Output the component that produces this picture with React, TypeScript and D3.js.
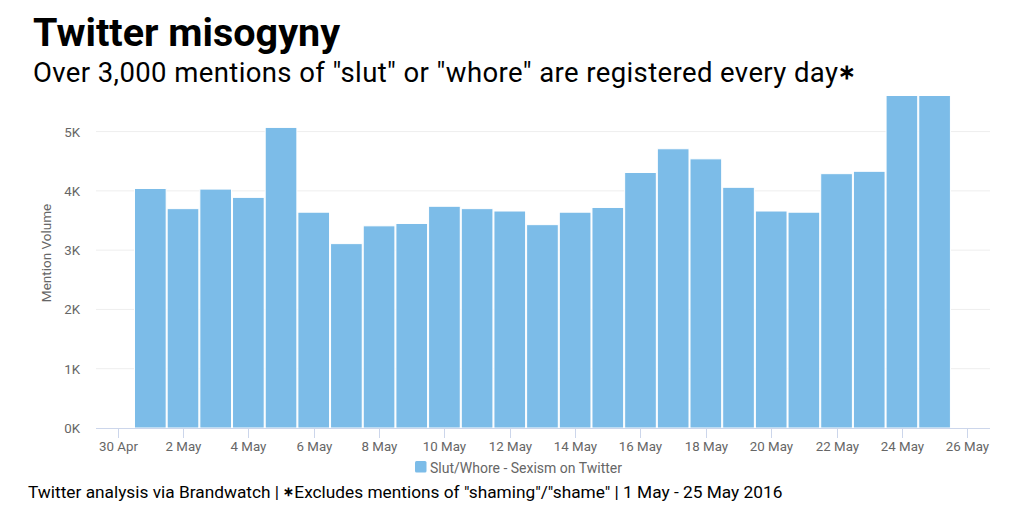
import React from "react";
import * as d3 from "d3";

const dates: string[] = [
  "2016-05-01","2016-05-02","2016-05-03","2016-05-04","2016-05-05","2016-05-06","2016-05-07",
  "2016-05-08","2016-05-09","2016-05-10","2016-05-11","2016-05-12","2016-05-13","2016-05-14",
  "2016-05-15","2016-05-16","2016-05-17","2016-05-18","2016-05-19","2016-05-20","2016-05-21",
  "2016-05-22","2016-05-23","2016-05-24","2016-05-25",
];
const mentions: number[] = [
  4040, 3700, 4030, 3890, 5070, 3640, 3110, 3410, 3450, 3740, 3700, 3660, 3430,
  3640, 3720, 4310, 4710, 4540, 4060, 3660, 3640, 4290, 4330, 5650, 5620,
];
const yTicks: number[] = [0, 1000, 2000, 3000, 4000, 5000];
const xTickDates: string[] = [
  "2016-04-30","2016-05-02","2016-05-04","2016-05-06","2016-05-08","2016-05-10","2016-05-12",
  "2016-05-14","2016-05-16","2016-05-18","2016-05-20","2016-05-22","2016-05-24","2016-05-26",
];
const seriesName = "Slut/Whore - Sexism on Twitter";
const title = "Twitter misogyny";
const subtitle = "Over 3,000 mentions of \"slut\" or \"whore\" are registered every day";
const footer = "Twitter analysis via Brandwatch | ";
const footer2 = "Excludes mentions of \"shaming\"/\"shame\" | 1 May - 25 May 2016";

const W = 1024, H = 514;
const left = 96, right = 990, top = 96, bottom = 428;
const HOUR = 3600 * 1000;

export default function App() {
  const parse = (s: string) => new Date(s + "T00:00:00Z");
  const x = d3.scaleUtc()
    .domain([new Date(parse("2016-04-30").getTime() - 15.9 * HOUR), new Date(parse("2016-05-26").getTime() + 16.7 * HOUR)])
    .range([left, right]);
  const y = d3.scaleLinear().domain([0, 5600]).range([bottom, top]);
  const fmtX = (d: Date) => {
    const m = d.getUTCMonth() === 3 ? "Apr" : "May";
    return `${d.getUTCDate()} ${m}`;
  };
  const font = "Roboto, 'Noto Sans', sans-serif";
  const color = "#7cbce8";
  return (
    <svg width={W} height={H} style={{ position: "absolute", left: 0, top: 0, background: "#fff" }} fontFamily={font}>
      <defs>
        <clipPath id="plot"><rect x={left} y={top} width={right - left} height={bottom - top} /></clipPath>
      </defs>
      <text x={33} y={46} fontSize={39.5} fontWeight={700} fill="#000">{title}</text>
      <text x={33} y={82} fontSize={27.5} fill="#000" textLength={805} lengthAdjust="spacing">{subtitle}</text>
      <text x={847} y={79} fontSize={21} fontWeight={700} fill="#000" textAnchor="middle">∗</text>
      {yTicks.map((t) => (
        <g key={t}>
          {t > 0 && <line x1={left} x2={right} y1={y(t)} y2={y(t)} stroke="#eeeeee" strokeWidth={1} />}
          <text x={80} y={y(t) + 5} fontSize={13.3} fill="#666" textAnchor="end">{t / 1000 + "K"}</text>
        </g>
      ))}
      <text transform={`translate(51,253) rotate(-90)`} fontSize={13.5} fill="#666" textAnchor="middle">Mention Volume</text>
      <g clipPath="url(#plot)">
        {dates.map((d, i) => {
          const c = parse(d).getTime();
          const x0 = x(new Date(c - 12 * HOUR));
          const x1 = x(new Date(c + 12 * HOUR));
          return (
            <rect key={d} x={x0 + 0.5} y={y(mentions[i])} width={x1 - x0 - 1} height={bottom - y(mentions[i])}
              fill={color} stroke="#ffffff" strokeWidth={1} />
          );
        })}
      </g>
      <line x1={left} x2={right} y1={bottom + 0.5} y2={bottom + 0.5} stroke="#ccd6eb" strokeWidth={1} />
      {xTickDates.map((s) => {
        const d = parse(s);
        const xp = Math.round(x(d)) + 0.5;
        return (
          <g key={s}>
            <line x1={xp} x2={xp} y1={bottom} y2={bottom + 10} stroke="#ccd6eb" strokeWidth={1} />
            <text x={xp} y={451} fontSize={13.3} fill="#666" textAnchor="middle">{fmtX(d)}</text>
          </g>
        );
      })}
      <rect x={415} y={461} width={11.5} height={11.5} rx={1.5} fill={color} />
      <text x={430} y={473} fontSize={14} fill="#666">{seriesName}</text>
      <text x={28} y={497.5} fontSize={17.3} fill="#000">{footer}<tspan fontSize={13} fontWeight={700} dy={-2}>∗</tspan><tspan dy={2}>{footer2}</tspan></text>
    </svg>
  );
}
